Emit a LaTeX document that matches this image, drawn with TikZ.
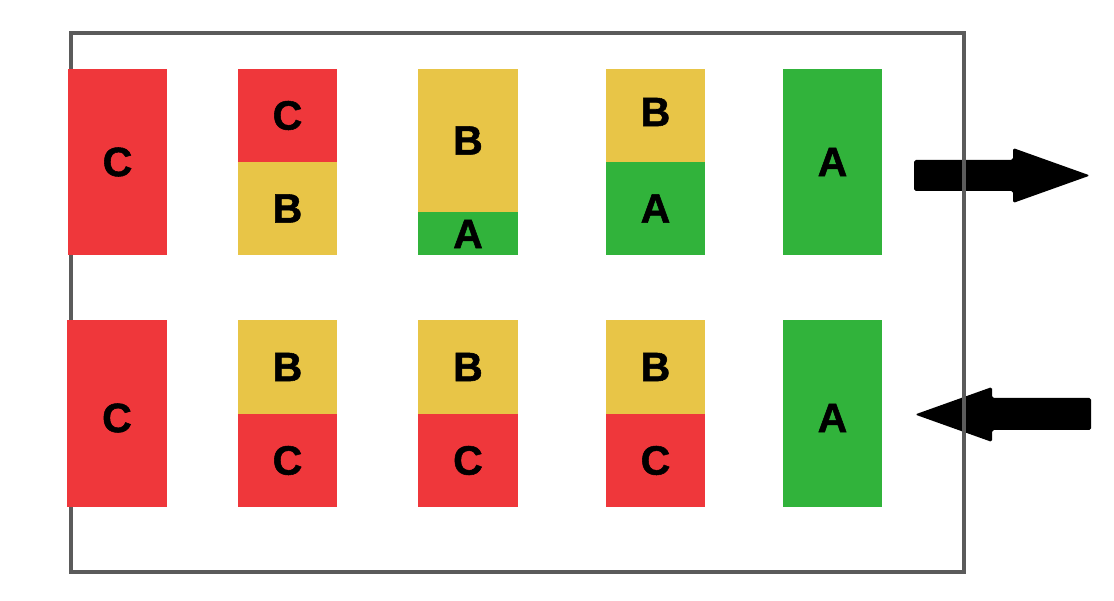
\documentclass[tikz,border=0pt]{standalone}
\usepackage{fontspec}
\setmainfont{Liberation Sans}
\newfontfamily\lourd[FakeBold=1.3]{Liberation Sans Bold}
\usepackage{tikz}
\definecolor{rouge}{HTML}{EF373B}
\definecolor{jaune}{HTML}{E8C547}
\definecolor{vert}{HTML}{31B33B}
\definecolor{cadre}{HTML}{5B5B5B}
\tikzset{lettre/.style={inner sep=0pt,font=\fontsize{35}{40}\selectfont\lourd}}

\begin{document}
\begin{tikzpicture}[x=0.03cm,y=-0.03cm]
        \useasboundingbox (0,0) rectangle (1114,601);
        % Fleches
        \fill[black, rounded corners=1.5] (914,160) -- (1013,160) -- (1013,148) -- (1090,175.5) -- (1013,203) -- (1013,191) -- (914,191) -- cycle;
        \fill[black, rounded corners=1.5] (1091,398) -- (992,398) -- (992,387) -- (915,414.5) -- (992,442) -- (992,430) -- (1091,430) -- cycle;
        % Cadre
        \draw[cadre, line width=3.4pt] (71,33) rectangle (964,572);
        % Ligne du haut
        \fill[rouge] (68,69) rectangle (167,255);
        \node[lettre] (h1c) at (117.5,162) {C};
        \fill[rouge] (238,69) rectangle (337,162);
        \fill[jaune] (238,162) rectangle (337,255);
        \node[lettre] (h2c) at (287.5,115.5) {C};
        \node[lettre] (h2b) at (287.5,208.5) {B};
        \fill[jaune] (418,69) rectangle (518,212);
        \fill[vert] (418,212) rectangle (518,255);
        \node[lettre] (h3b) at (468,140.5) {B};
        \node[lettre] (h3a) at (468,234) {A};
        \fill[jaune] (606,69) rectangle (705,162);
        \fill[vert] (606,162) rectangle (705,255);
        \node[lettre] (h4b) at (655.5,112) {B};
        \node[lettre] (h4a) at (655.5,208.5) {A};
        \fill[vert] (783,69) rectangle (882,255);
        \node[lettre] (h5a) at (832.5,162) {A};
        % Ligne du bas
        \fill[rouge] (67,320) rectangle (167,507);
        \node[lettre] (b1c) at (117,418) {C};
        \fill[jaune] (238,320) rectangle (337,414);
        \fill[rouge] (238,414) rectangle (337,507);
        \node[lettre] (b2b) at (287.5,367) {B};
        \node[lettre] (b2c) at (287.5,460.5) {C};
        \fill[jaune] (418,320) rectangle (518,414);
        \fill[rouge] (418,414) rectangle (518,507);
        \node[lettre] (b3b) at (468,367) {B};
        \node[lettre] (b3c) at (468,460.5) {C};
        \fill[jaune] (606,320) rectangle (705,414);
        \fill[rouge] (606,414) rectangle (705,507);
        \node[lettre] (b4b) at (655.5,367) {B};
        \node[lettre] (b4c) at (655.5,460.5) {C};
        \fill[vert] (783,320) rectangle (882,507);
        \node[lettre] (b5a) at (832.5,418) {A};
\end{tikzpicture}
\end{document}
